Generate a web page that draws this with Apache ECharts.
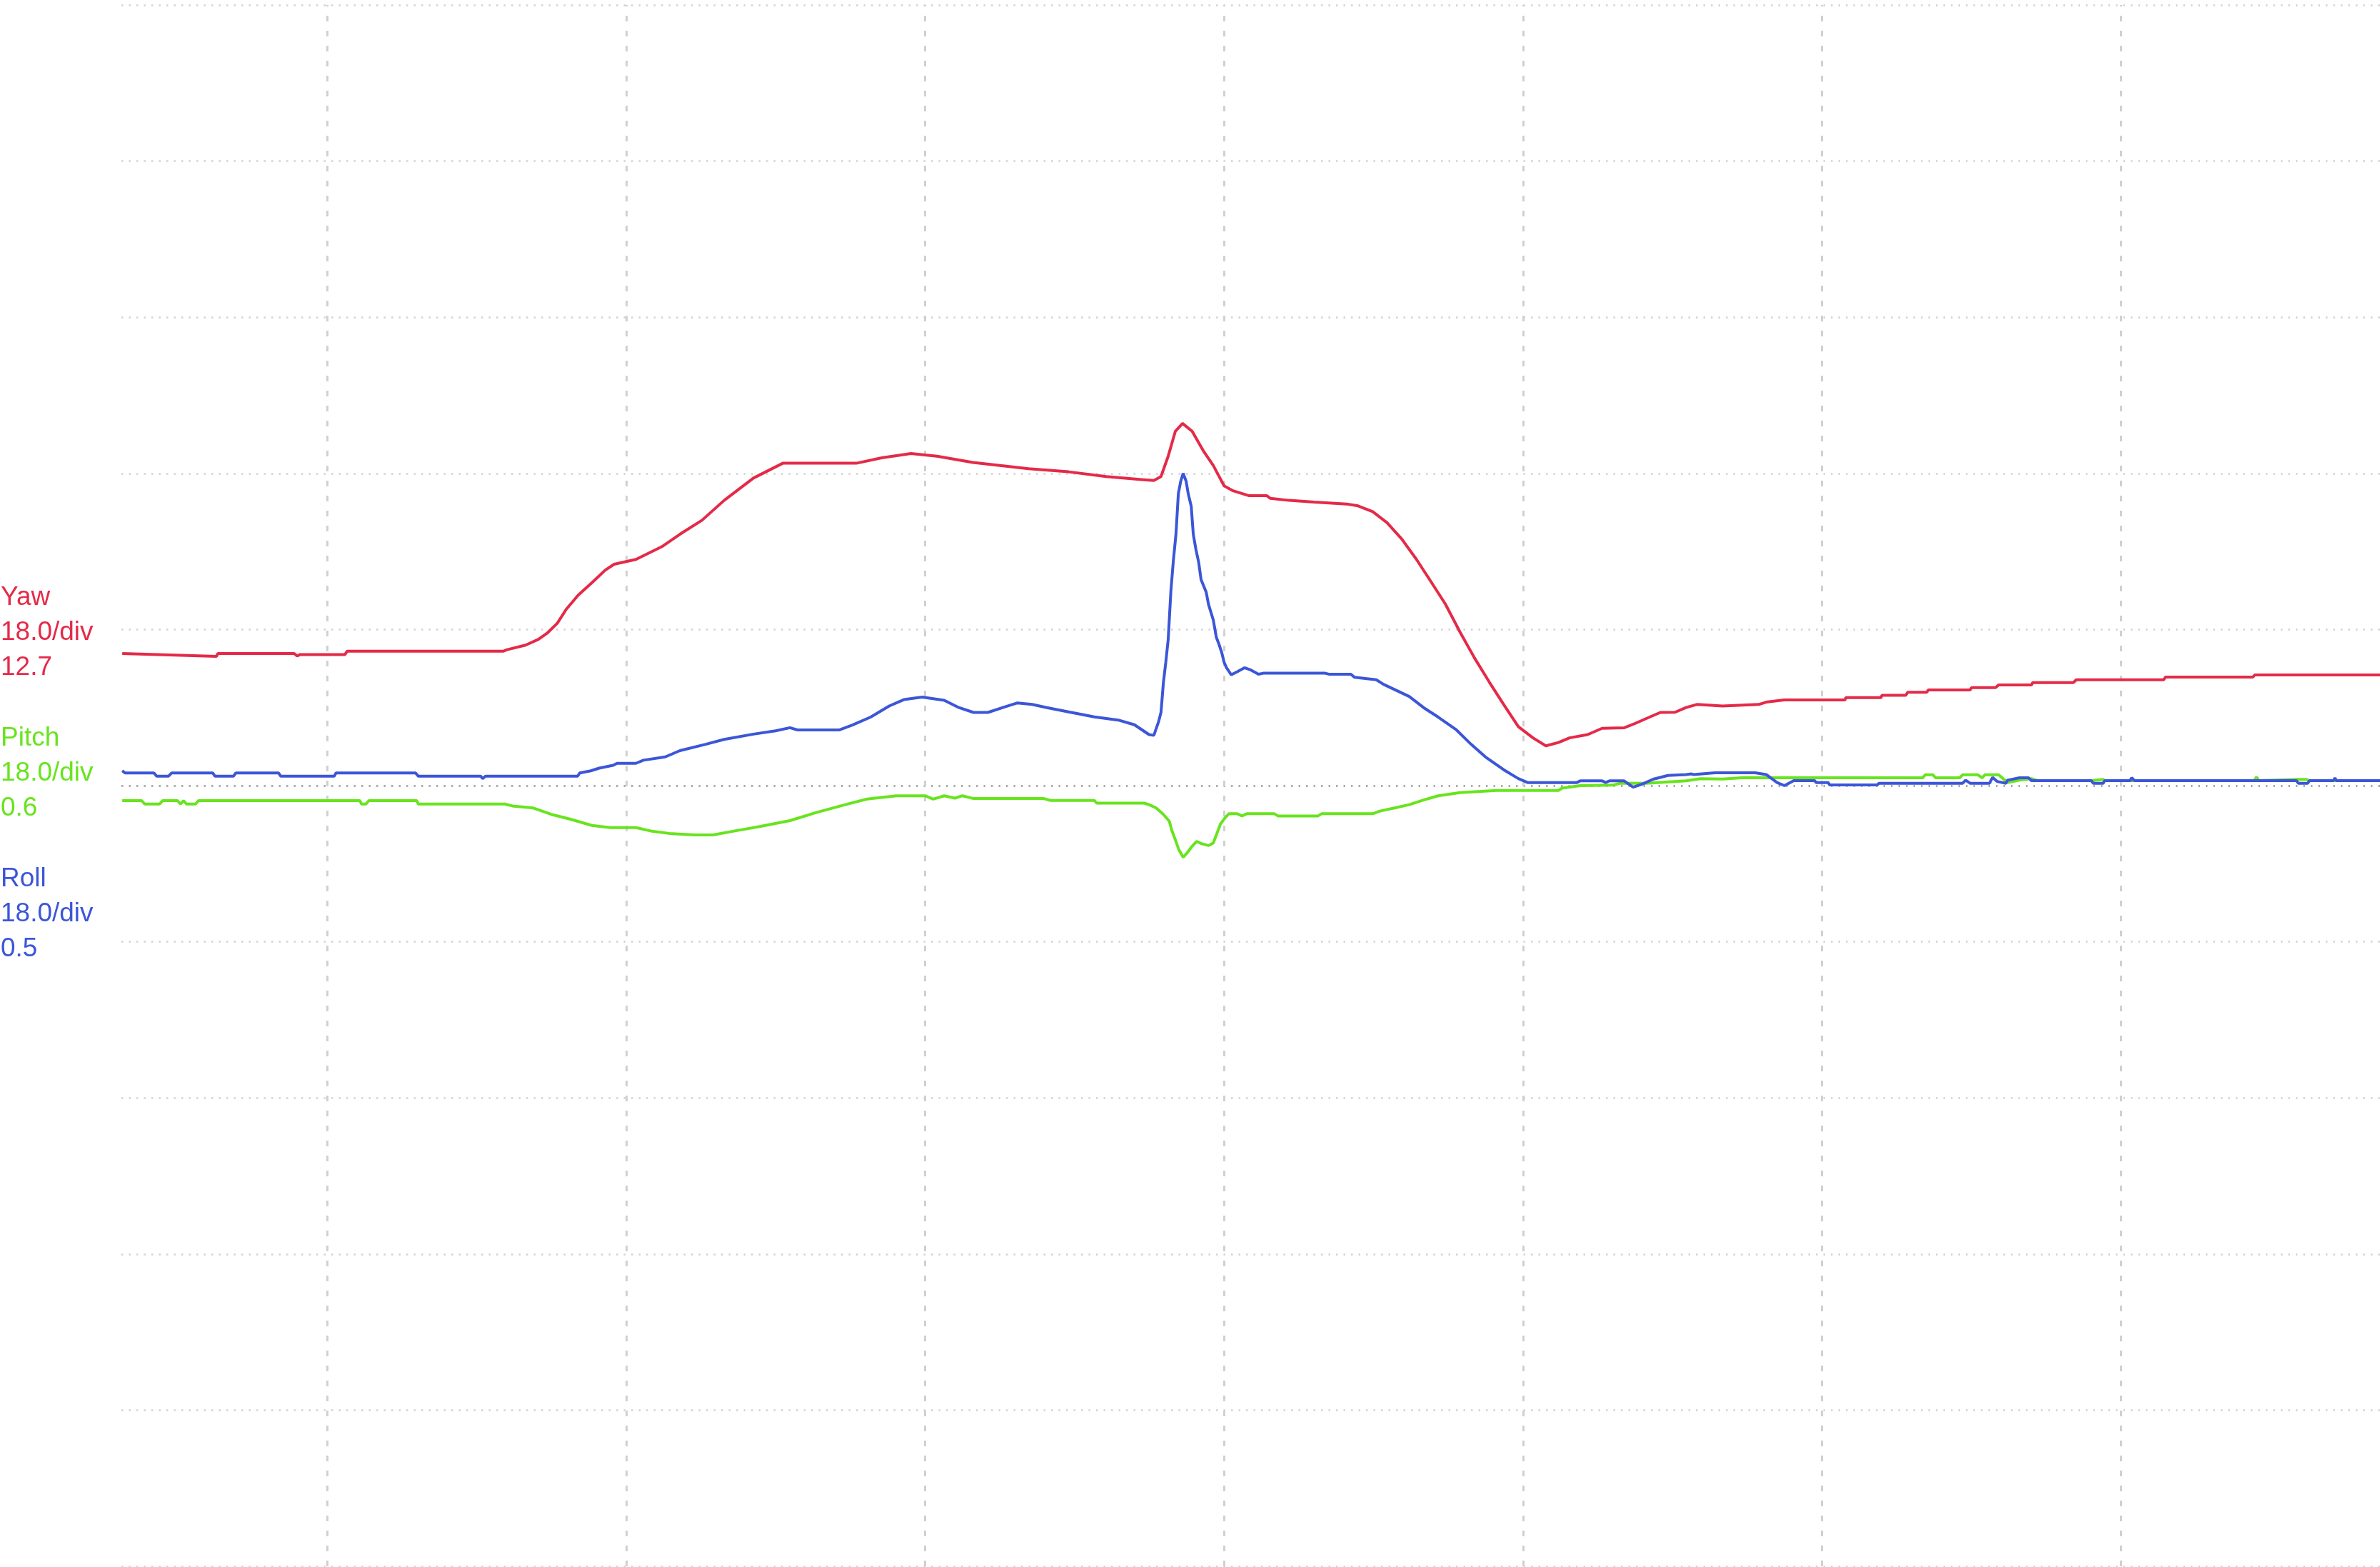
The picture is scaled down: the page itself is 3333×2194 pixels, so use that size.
<!DOCTYPE html>
<html><head><meta charset="utf-8">
<script src="https://cdn.jsdelivr.net/npm/echarts@6/dist/echarts.min.js"></script>
<style>html,body{margin:0;padding:0;background:#fff;overflow:hidden}#c{width:3333px;height:2194px}</style>
</head><body><div id="c"></div>
<script>
// x in horizontal divisions, y in vertical divisions (18.0 per div)
const channelNames = ['Yaw', 'Pitch', 'Roll'];
const channelScales = ['18.0/div', '18.0/div', '18.0/div'];
const channelReadouts = ['12.7', '0.6', '0.5'];
const channelColors = ['#e42a48', '#68e41e', '#3c56d8'];
const timeGridDivisions = [1, 2, 3, 4, 5, 6, 7];

const yawData = [[0.315,0.846],[0.63,0.828],[0.635,0.846],[0.89,0.846],[0.9,0.83],[0.91,0.84],[1.06,0.84],[1.067,0.861],[1.59,0.861],[1.6,0.87],[1.664,0.9],[1.707,0.937],[1.738,0.98],[1.77,1.04],[1.8,1.13],[1.84,1.22],[1.886,1.3],[1.93,1.38],[1.96,1.418],[2.033,1.449],[2.119,1.53],[2.18,1.61],[2.254,1.7],[2.328,1.827],[2.426,1.97],[2.524,2.065],[2.77,2.065],[2.855,2.1],[2.953,2.127],[3.04,2.11],[3.16,2.07],[3.346,2.03],[3.48,2.01],[3.606,1.98],[3.725,1.96],[3.765,1.955],[3.789,1.98],[3.813,2.11],[3.837,2.27],[3.861,2.32],[3.893,2.27],[3.932,2.14],[3.964,2.05],[4.0,1.92],[4.028,1.89],[4.084,1.857],[4.143,1.857],[4.155,1.84],[4.217,1.827],[4.302,1.816],[4.41,1.804],[4.448,1.792],[4.497,1.755],[4.545,1.684],[4.594,1.58],[4.643,1.45],[4.692,1.306],[4.74,1.163],[4.79,0.98],[4.838,0.816],[4.887,0.663],[4.935,0.52],[4.984,0.378],[5.033,0.306],[5.076,0.255],[5.118,0.276],[5.155,0.306],[5.216,0.327],[5.264,0.367],[5.337,0.37],[5.374,0.398],[5.423,0.439],[5.459,0.469],[5.508,0.47],[5.545,0.5],[5.581,0.52],[5.667,0.51],[5.788,0.52],[5.813,0.535],[5.873,0.549],[6.076,0.549],[6.08,0.564],[6.197,0.564],[6.2,0.579],[6.28,0.579],[6.286,0.598],[6.35,0.598],[6.355,0.613],[6.495,0.613],[6.5,0.628],[6.58,0.628],[6.59,0.645],[6.7,0.645],[6.704,0.66],[6.84,0.66],[6.85,0.678],[7.142,0.678],[7.148,0.695],[7.44,0.695],[7.447,0.709],[7.866,0.709]];

const pitchData = [[0.315,-0.096],[0.38,-0.096],[0.39,-0.118],[0.44,-0.118],[0.45,-0.096],[0.5,-0.096],[0.51,-0.118],[0.52,-0.096],[0.53,-0.118],[0.56,-0.118],[0.57,-0.096],[1.11,-0.096],[1.115,-0.118],[1.13,-0.118],[1.14,-0.096],[1.3,-0.096],[1.305,-0.118],[1.595,-0.118],[1.62,-0.13],[1.69,-0.143],[1.75,-0.184],[1.812,-0.214],[1.886,-0.255],[1.947,-0.269],[2.033,-0.269],[2.082,-0.29],[2.144,-0.306],[2.229,-0.316],[2.291,-0.316],[2.364,-0.29],[2.45,-0.261],[2.548,-0.224],[2.634,-0.173],[2.733,-0.122],[2.806,-0.086],[2.904,-0.065],[3.0,-0.065],[3.027,-0.086],[3.064,-0.065],[3.1,-0.08],[3.125,-0.065],[3.16,-0.082],[3.395,-0.082],[3.42,-0.095],[3.566,-0.095],[3.574,-0.112],[3.733,-0.112],[3.749,-0.122],[3.773,-0.143],[3.797,-0.184],[3.817,-0.229],[3.825,-0.286],[3.837,-0.347],[3.849,-0.412],[3.863,-0.459],[3.877,-0.429],[3.893,-0.388],[3.908,-0.357],[3.924,-0.371],[3.948,-0.384],[3.964,-0.367],[3.976,-0.306],[3.988,-0.245],[4.004,-0.204],[4.016,-0.18],[4.044,-0.18],[4.06,-0.194],[4.076,-0.18],[4.168,-0.18],[4.18,-0.194],[4.314,-0.194],[4.326,-0.18],[4.497,-0.18],[4.521,-0.163],[4.57,-0.143],[4.619,-0.122],[4.667,-0.092],[4.716,-0.065],[4.789,-0.045],[4.911,-0.031],[5.118,-0.031],[5.13,-0.016],[5.191,0.0],[5.3,0.003],[5.325,0.016],[5.41,0.015],[5.545,0.031],[5.593,0.045],[5.667,0.042],[5.74,0.051],[6.336,0.05],[6.345,0.07],[6.37,0.07],[6.38,0.05],[6.46,0.05],[6.47,0.07],[6.52,0.07],[6.535,0.05],[6.545,0.07],[6.59,0.07],[6.606,0.043],[6.622,0.02],[6.66,0.035],[6.7,0.045],[6.72,0.032],[6.9,0.032],[6.903,0.04],[6.94,0.04],[6.945,0.032],[7.445,0.032],[7.453,0.055],[7.46,0.032],[7.586,0.04],[7.62,0.04],[7.63,0.032],[7.866,0.032]];

const rollData = [[0.315,0.095],[0.325,0.081],[0.421,0.081],[0.43,0.061],[0.47,0.061],[0.48,0.081],[0.618,0.081],[0.625,0.061],[0.687,0.061],[0.695,0.081],[0.838,0.081],[0.845,0.061],[1.024,0.061],[1.03,0.081],[1.296,0.081],[1.305,0.061],[1.514,0.061],[1.52,0.045],[1.53,0.061],[1.838,0.061],[1.845,0.081],[1.882,0.095],[1.91,0.112],[1.957,0.13],[1.97,0.143],[2.033,0.143],[2.058,0.163],[2.131,0.184],[2.18,0.224],[2.266,0.265],[2.328,0.296],[2.426,0.33],[2.5,0.351],[2.548,0.371],[2.573,0.357],[2.714,0.357],[2.757,0.388],[2.818,0.439],[2.88,0.51],[2.929,0.551],[2.99,0.567],[3.064,0.547],[3.113,0.5],[3.162,0.469],[3.21,0.469],[3.26,0.5],[3.309,0.53],[3.358,0.52],[3.407,0.5],[3.486,0.47],[3.566,0.44],[3.646,0.42],[3.7,0.39],[3.749,0.327],[3.765,0.322],[3.781,0.41],[3.789,0.47],[3.797,0.66],[3.805,0.79],[3.813,0.935],[3.822,1.245],[3.83,1.435],[3.839,1.61],[3.847,1.87],[3.855,1.95],[3.863,2.0],[3.873,1.95],[3.88,1.87],[3.89,1.79],[3.897,1.61],[3.906,1.51],[3.915,1.43],[3.923,1.32],[3.94,1.24],[3.948,1.16],[3.964,1.06],[3.974,0.95],[3.984,0.9],[3.992,0.853],[4.0,0.79],[4.008,0.755],[4.024,0.71],[4.044,0.73],[4.068,0.755],[4.09,0.74],[4.115,0.714],[4.131,0.72],[4.338,0.72],[4.35,0.714],[4.424,0.714],[4.436,0.694],[4.509,0.678],[4.533,0.649],[4.619,0.571],[4.667,0.5],[4.716,0.439],[4.777,0.357],[4.826,0.265],[4.874,0.184],[4.935,0.102],[4.984,0.045],[5.015,0.02],[5.18,0.02],[5.191,0.031],[5.264,0.031],[5.276,0.02],[5.289,0.031],[5.337,0.031],[5.368,-0.01],[5.398,0.01],[5.435,0.041],[5.484,0.065],[5.545,0.071],[5.563,0.075],[5.569,0.071],[5.642,0.082],[5.776,0.082],[5.813,0.071],[5.849,0.02],[5.874,0.0],[5.905,0.032],[5.975,0.032],[5.98,0.02],[6.02,0.02],[6.025,0.005],[6.184,0.005],[6.19,0.015],[6.47,0.015],[6.48,0.035],[6.495,0.015],[6.56,0.015],[6.57,0.053],[6.585,0.027],[6.615,0.015],[6.62,0.035],[6.66,0.05],[6.69,0.05],[6.7,0.032],[6.9,0.032],[6.907,0.015],[6.94,0.015],[6.945,0.032],[7.03,0.032],[7.035,0.05],[7.045,0.032],[7.586,0.032],[7.593,0.015],[7.624,0.015],[7.63,0.032],[7.71,0.032],[7.715,0.05],[7.72,0.032],[7.866,0.032]];

const seriesData = [yawData, pitchData, rollData];

const chart = echarts.init(document.getElementById('c'), null, { renderer: 'canvas' });

const hLineColors = [];
for (let i = 0; i <= 10; i++) hLineColors.push(i === 5 ? '#9c9c9c' : '#d2d2d2');

const labelFont = '37px "Liberation Sans", Arial, sans-serif';
const graphics = [];
const groupTop = [837, 1034, 1231];
channelNames.forEach((name, i) => {
  [name, channelScales[i], channelReadouts[i]].forEach((t, j) => {
    graphics.push({
      type: 'text', x: 1, y: groupTop[i] + j * 49,
      style: { text: t, fill: channelColors[i], font: labelFont, verticalAlign: 'middle', align: 'left' }
    });
  });
});

const series = channelNames.map((name, i) => ({
  name: name,
  type: 'line',
  data: seriesData[i],
  showSymbol: false,
  symbol: 'none',
  z: 3 + i,
  lineStyle: { color: channelColors[i], width: 4 },
  animation: false
}));
series[0].markLine = {
  silent: true, symbol: 'none', z: 1, animation: false,
  label: { show: false },
  lineStyle: { color: '#d0d0d0', width: 3, type: [8, 13] },
  data: timeGridDivisions.map(v => ({ xAxis: v }))
};

chart.setOption({
  backgroundColor: '#ffffff',
  animation: false,
  grid: { left: 170, right: 0, top: 7, bottom: 1, containLabel: false },
  xAxis: {
    type: 'value', min: 0.3122, max: 7.8657,
    axisLine: { show: false }, axisTick: { show: false }, axisLabel: { show: false },
    splitLine: { show: false }
  },
  yAxis: {
    type: 'value', min: -5, max: 5, interval: 1,
    axisLine: { show: false }, axisTick: { show: false }, axisLabel: { show: false },
    splitLine: { show: true, lineStyle: { color: hLineColors, width: 2.5, type: [2.5, 8] } }
  },
  graphic: graphics,
  series: series
});
</script></body></html>
